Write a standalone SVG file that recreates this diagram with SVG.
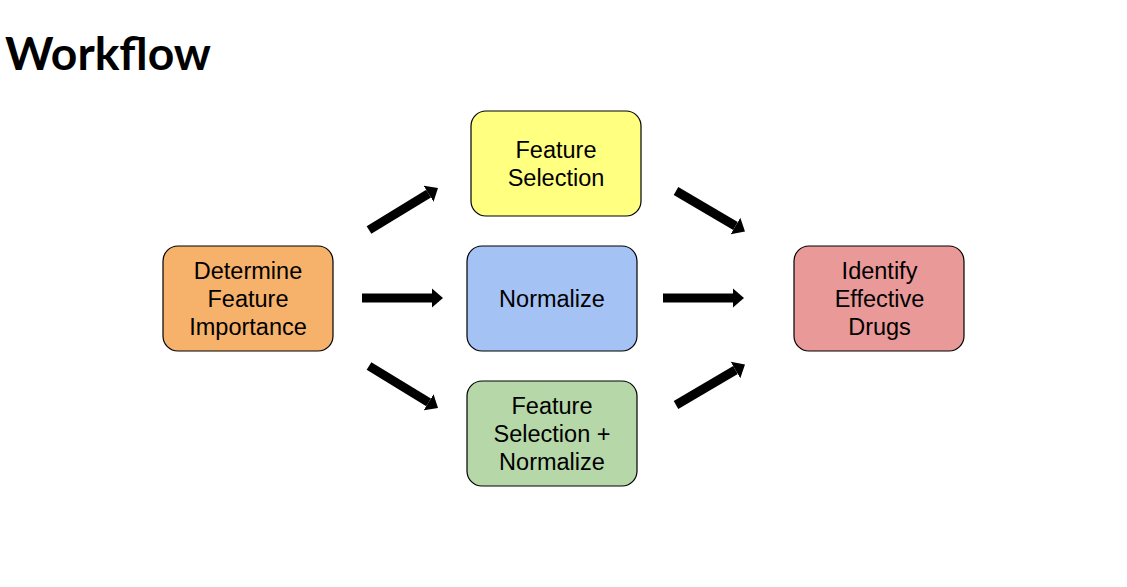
<svg xmlns="http://www.w3.org/2000/svg" width="1127" height="587" viewBox="0 0 1127 587">
<style>
.node rect{stroke:#000;stroke-width:1.2}
.node text{font-family:"Liberation Sans",Arial,sans-serif;font-size:23.5px;fill:#000;text-anchor:middle}
.title{font-family:Lato,"Noto Sans",sans-serif;font-weight:bold;font-size:45px;fill:#000}
.conn line{stroke:#000;stroke-width:9;fill:none}
</style>
<defs>
<marker id="ah" markerUnits="userSpaceOnUse" markerWidth="12" markerHeight="20" refX="0" refY="9.5" orient="auto" viewBox="0 0 12 19">
<path d="M0,0 L11,9.5 L0,19 Z" fill="#000"/>
</marker>
</defs>
<rect width="1127" height="587" fill="#fff"/>
<text class="title" x="5" y="70" textLength="206" lengthAdjust="spacingAndGlyphs">Workflow</text>
<g id="connectors" class="conn">
<line x1="369" y1="230" x2="428.6" y2="193.7" marker-end="url(#ah)"/>
<line x1="362" y1="298" x2="432" y2="298" marker-end="url(#ah)"/>
<line x1="369" y1="366" x2="428.6" y2="402.3" marker-end="url(#ah)"/>
<line x1="676" y1="191" x2="735.5" y2="226" marker-end="url(#ah)"/>
<line x1="663" y1="298" x2="733" y2="298" marker-end="url(#ah)"/>
<line x1="676" y1="405" x2="735.5" y2="370" marker-end="url(#ah)"/>
</g>
<g id="determine" class="node">
<rect x="163" y="246" width="170" height="105" rx="15" fill="#f6b26b"/>
<text x="248" y="278.6">Determine</text>
<text x="248" y="306.6">Feature</text>
<text x="248" y="334.6">Importance</text>
</g>
<g id="feature-selection" class="node">
<rect x="471" y="111" width="170" height="105" rx="15" fill="#ffff80"/>
<text x="556" y="158.3">Feature</text>
<text x="556" y="186">Selection</text>
</g>
<g id="normalize" class="node">
<rect x="467" y="246" width="170" height="105" rx="15" fill="#a4c2f4"/>
<text x="552" y="307">Normalize</text>
</g>
<g id="fs-normalize" class="node">
<rect x="467" y="381" width="170" height="105" rx="15" fill="#b6d7a8"/>
<text x="552" y="414">Feature</text>
<text x="552" y="441.7">Selection +</text>
<text x="552" y="469.5">Normalize</text>
</g>
<g id="identify" class="node">
<rect x="794" y="246" width="170" height="105" rx="15" fill="#ea9999"/>
<text x="879.5" y="278.6">Identify</text>
<text x="879.5" y="306.6">Effective</text>
<text x="879.5" y="334.6">Drugs</text>
</g>
</svg>
